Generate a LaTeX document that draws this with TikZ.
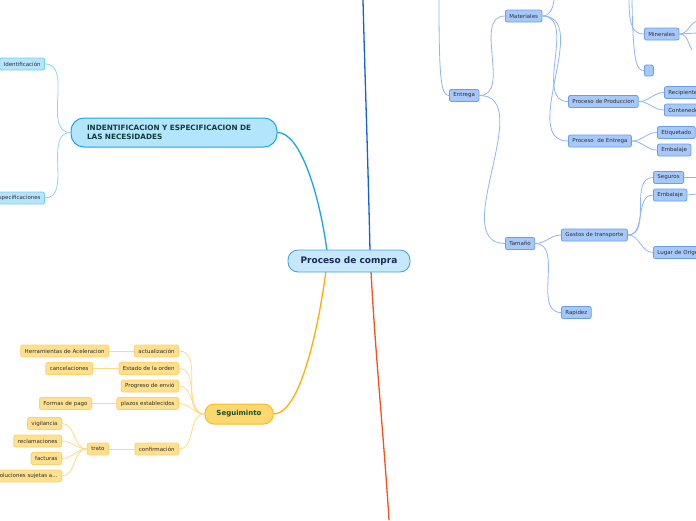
\documentclass[tikz,border=0pt]{standalone}
\usepackage{fontspec}
\setmainfont{DejaVu Sans}
\definecolor{cenFill}{HTML}{C6E8FA}
\definecolor{cenLine}{HTML}{4AA3DF}
\definecolor{cenText}{HTML}{1A2A55}
\definecolor{tFill}{HTML}{B3E5FC}
\definecolor{tLine}{HTML}{1BA5E6}
\definecolor{tText}{HTML}{123C3C}
\definecolor{cyFill}{HTML}{B6E5FA}
\definecolor{cyLine}{HTML}{72CEF3}
\definecolor{cyEdge}{HTML}{8AD6F6}
\definecolor{sgFill}{HTML}{FDD86E}
\definecolor{sgLine}{HTML}{F8BC25}
\definecolor{sgText}{HTML}{1D4D22}
\definecolor{yFill}{HTML}{FFE08F}
\definecolor{yLine}{HTML}{FCD172}
\definecolor{yEdge}{HTML}{FFD985}
\definecolor{bFill}{HTML}{A7C8FA}
\definecolor{bLine}{HTML}{6A9FE8}
\definecolor{bEdge}{HTML}{8FB5F2}
\definecolor{smText}{HTML}{2E2E2E}
\definecolor{mCyan}{HTML}{1AA3E8}
\definecolor{mOrange}{HTML}{FFAE00}
\definecolor{mBlue}{HTML}{1660D6}
\definecolor{mRed}{HTML}{F4511E}
\begin{document}
\begin{tikzpicture}[x=1pt,y=-1pt,
  smbox/.style={draw, rounded corners=2pt, line width=0.8pt, font=\fontsize{5.5}{6.5}\selectfont, text=smText, inner xsep=4pt, inner ysep=0pt, minimum height=12pt},
  bnode/.style={smbox, fill=bFill, draw=bLine},
  cnode/.style={smbox, fill=cyFill, draw=cyLine},
  ynode/.style={smbox, fill=yFill, draw=yLine},
  bedge/.style={draw=bEdge, line width=0.8pt},
  cedge/.style={draw=cyEdge, line width=0.8pt},
  yedge/.style={draw=yEdge, line width=0.8pt}
]
\useasboundingbox (0,0) rectangle (696,520);
\clip (0,0) rectangle (696,520);

% ---------- main branches ----------
\coordinate (cA) at (327,251);
\coordinate (cB) at (326,271);
\coordinate (cC) at (370,251);
\coordinate (cD) at (371,271);
\coordinate (topB) at (363,0);
\coordinate (botR) at (389,520);

\node[draw=tLine, fill=tFill, line width=1pt, rounded corners=13pt, text width=174pt, align=left, inner xsep=16pt, minimum height=29pt, font=\fontsize{7.3}{9.5}\selectfont\bfseries, text=tText] (t1) at (174,132.5) {INDENTIFICACION Y ESPECIFICACION DE\\LAS NECESIDADES};

\node[draw=sgLine, fill=sgFill, line width=1pt, rounded corners=9pt, minimum width=68pt, minimum height=20pt, inner sep=0pt, font=\fontsize{7}{8}\selectfont\bfseries, text=sgText] (seg) at (239,414) {Seguiminto};

\draw[mCyan, line width=1.3pt] (cA) .. controls (319,192) and (300,132.5) .. (t1.east);
\draw[mOrange, line width=1.3pt] (cB) .. controls (318,330) and (300,414) .. (seg.east);
\draw[mBlue, line width=1.3pt] (cC) .. controls (368,160) and (365,80) .. (topB);
\draw[mRed, line width=1.3pt] (cD) .. controls (375,350) and (384,440) .. (botR);

\node[draw=cenLine, fill=cenFill, line width=0.9pt, rounded corners=10pt, minimum width=122pt, minimum height=22pt, inner sep=0pt, font=\fontsize{9}{10}\selectfont\bfseries, text=cenText] (cen) at (349,261) {Proceso de compra};

% ---------- topic 1 children ----------
\node[cnode, anchor=east] (ident) at (45,64) {Identificación};
\node[cnode, anchor=east] (espec) at (45,198) {Especificaciones};
\draw[cedge] (t1.west) to[out=180,in=0] (ident.east);
\draw[cedge] (t1.west) to[out=180,in=0] (espec.east);

% ---------- Seguiminto children ----------
\node[ynode, anchor=east] (act) at (179,351) {actualización};
\node[ynode, anchor=east] (herr) at (109,351) {Herramientas de Aceleracion};
\node[ynode, anchor=east] (est) at (179,368.5) {Estado de la orden};
\node[ynode, anchor=east] (canc) at (93,368.5) {cancelaciones};
\node[ynode, anchor=east] (prog) at (179,386) {Progreso de envió};
\node[ynode, anchor=east] (plaz) at (179,403.5) {plazos establecidos};
\node[ynode, anchor=east] (form) at (92,403.5) {Formas de pago};
\node[ynode, anchor=east] (conf) at (179,449) {confirmación};
\node[ynode, anchor=east] (trato) at (109,449) {trato};
\node[ynode, anchor=east] (vig) at (62,423.5) {vigilancia};
\node[ynode, anchor=east] (recl) at (62,441) {reclamaciones};
\node[ynode, anchor=east] (fact) at (62,458.5) {facturas};
\node[ynode, anchor=east] (devo) at (62,476) {Devoluciones sujetas a...};

\foreach \n in {act,est,prog,plaz,conf}
  \draw[yedge] (seg.west) to[out=180,in=0] (\n.east);
\draw[yedge] (act.west) -- (herr.east);
\draw[yedge] (est.west) -- (canc.east);
\draw[yedge] (plaz.west) -- (form.east);
\draw[yedge] (conf.west) -- (trato.east);
\foreach \n in {vig,recl,fact,devo}
  \draw[yedge] (trato.west) to[out=180,in=0] (\n.east);

% ---------- right side (blue) ----------
\node[bnode, anchor=west] (entr) at (449,95.5) {Entrega};
\node[bnode, anchor=west] (mat) at (505,16) {Materiales};
\node[bnode, anchor=west] (tam) at (505,243.5) {Tamaño};
\node[bnode, anchor=west] (prod) at (568,101.5) {Proceso de Produccion};
\node[bnode, anchor=west] (pent) at (568,141) {Proceso~~de Entrega};
\node[bnode, anchor=west] (reci) at (664,92.5) {Recipientes};
\node[bnode, anchor=west] (cont) at (664,110) {Contenedores};
\node[bnode, anchor=west] (etiq) at (657,132.5) {Etiquetado};
\node[bnode, anchor=west] (emb1) at (657,150) {Embalaje};
\node[bnode, anchor=west] (gast) at (561,235) {Gastos de transporte};
\node[bnode, anchor=west] (rapi) at (561,312.5) {Rapidez};
\node[bnode, anchor=west] (segu) at (653,177.5) {Seguros};
\node[bnode, anchor=west] (emb2) at (653,195) {Embalaje};
\node[bnode, anchor=west] (luga) at (653,252.5) {Lugar de Origen};
\node[bnode, anchor=west] (mine) at (644,34) {Minerales};
\node[bnode, anchor=west, minimum width=9pt, minimum height=11pt, inner xsep=0pt] (empt) at (644,70.5) {};

\coordinate (eTop) at (439,0);
\coordinate (mTop) at (554,0);
\coordinate (kTop1) at (629,0);
\coordinate (kTop2) at (632,0);
\coordinate (mn1) at (697,21);
\coordinate (mn2) at (697,33);
\coordinate (mn3) at (692,50);
\coordinate (sg1) at (697,177.5);
\coordinate (eb1) at (697,194);

\draw[bedge] (eTop) .. controls (439,80) and (441,95.5) .. (entr.west);
\draw[bedge] (entr.east) to[out=0,in=180] (mat.west);
\draw[bedge] (entr.east) to[out=0,in=180] (tam.west);
\draw[bedge] (mat.east) .. controls (550,16) and (553,8) .. (mTop);
\draw[bedge] (mat.east) to[out=0,in=180] (prod.west);
\draw[bedge] (mat.east) to[out=0,in=180] (pent.west);
\draw[bedge] (kTop1) .. controls (629,28) and (634,34) .. (mine.west);
\draw[bedge] (kTop2) .. controls (633,60) and (636,70.5) .. (empt.west);
\draw[bedge] (mine.east) to[out=0,in=200] (mn1);
\draw[bedge] (mine.east) -- (mn2);
\draw[bedge] (mine.east) to[out=0,in=120] (mn3);
\draw[bedge] (prod.east) to[out=0,in=180] (reci.west);
\draw[bedge] (prod.east) to[out=0,in=180] (cont.west);
\draw[bedge] (pent.east) to[out=0,in=180] (etiq.west);
\draw[bedge] (pent.east) to[out=0,in=180] (emb1.west);
\draw[bedge] (tam.east) to[out=0,in=180] (gast.west);
\draw[bedge] (tam.east) to[out=0,in=180] (rapi.west);
\draw[bedge] (gast.east) to[out=0,in=180] (segu.west);
\draw[bedge] (gast.east) to[out=0,in=180] (emb2.west);
\draw[bedge] (gast.east) to[out=0,in=180] (luga.west);
\draw[bedge] (segu.east) -- (sg1);
\draw[bedge] (emb2.east) -- (eb1);
\end{tikzpicture}
\end{document}
